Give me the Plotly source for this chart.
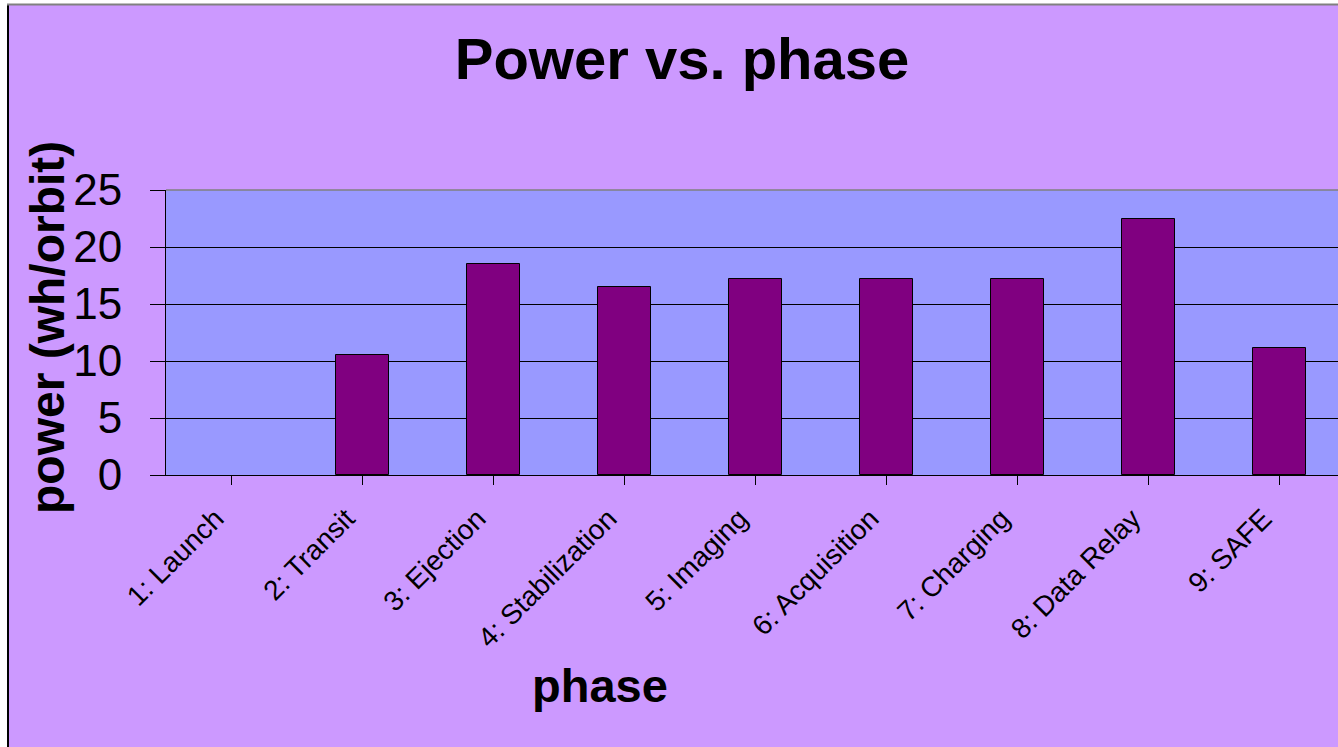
import plotly.graph_objects as go

phases = ["1: Launch", "2: Transit", "3: Ejection", "4: Stabilization", "5: Imaging",
          "6: Acquisition", "7: Charging", "8: Data Relay", "9: SAFE"]
power = [0, 10.5, 18.5, 16.5, 17.2, 17.2, 17.2, 22.5, 11.1]
y_ticks = [0, 5, 10, 15, 20, 25]

FONT = "Liberation Sans, Arial, sans-serif"
W, H = 1338, 747
L, T, B = 166, 190, 272
PW = W - L
PH = H - T - B

def px_x(x):
    return (x - L) / PW

def px_y(y):
    return (H - B - y) / PH

fig = go.Figure()
fig.add_trace(go.Bar(
    x=list(range(len(phases))), y=power, width=0.405,
    marker=dict(color="#800080",
                line=dict(color="black", width=[0 if v == 0 else 1 for v in power])),
))

fig.update_layout(
    width=W, height=H,
    margin=dict(l=L, r=0, t=T, b=B, pad=0),
    paper_bgcolor="#CC99FF",
    plot_bgcolor="#9999FF",
    showlegend=False,
    bargap=0,
    title=dict(text="Power vs. phase", x=682 / W, xanchor="center",
               y=1 - 59 / H, yanchor="middle", yref="container",
               font=dict(family=FONT, size=58, color="black", weight="bold")),
    xaxis=dict(
        range=[-0.5, 8.5 - 7 / 131],
        tickmode="array", tickvals=list(range(len(phases))), ticktext=phases,
        tickangle=-45, tickfont=dict(family=FONT, size=28, color="black"),
        ticks="outside", tickson="boundaries", ticklen=9, tickcolor="black",
        ticklabelstandoff=6, ticklabelshift=-16,
        showline=True, linecolor="black", linewidth=1,
        showgrid=False, zeroline=False, fixedrange=True,
    ),
    yaxis=dict(
        range=[0, 25], tickvals=y_ticks,
        tickfont=dict(family=FONT, size=44, color="black"),
        ticks="outside", ticklen=15, tickcolor="black",
        ticklabelstandoff=19,
        showline=True, linecolor="black", linewidth=1,
        showgrid=True, gridcolor="black", gridwidth=1,
        zeroline=False, fixedrange=True,
    ),
)

# white page strips outside the chart frame
fig.add_shape(type="rect", xref="paper", yref="paper", layer="below",
              x0=px_x(0), x1=px_x(7), y0=px_y(0), y1=px_y(760),
              fillcolor="white", line=dict(width=0))
fig.add_shape(type="rect", xref="paper", yref="paper", layer="below",
              x0=px_x(0), x1=px_x(1345), y0=px_y(0), y1=px_y(4),
              fillcolor="white", line=dict(width=0))
# plot-area top border (gray)
fig.add_shape(type="line", xref="paper", yref="paper", x0=0, x1=1.01, y0=1, y1=1,
              line=dict(color="#808080", width=1.5))
# chart frame
fig.add_shape(type="line", xref="paper", yref="paper",
              x0=px_x(8), x1=px_x(8), y0=px_y(4), y1=px_y(760),
              line=dict(color="black", width=2))
fig.add_shape(type="line", xref="paper", yref="paper",
              x0=px_x(7), x1=px_x(1345), y0=px_y(4.5), y1=px_y(4.5),
              line=dict(color="#808080", width=2))

fig.add_annotation(text="power (wh/orbit)", textangle=-90, showarrow=False,
                   xref="paper", yref="paper", x=px_x(47), y=px_y(328),
                   xanchor="center", yanchor="middle",
                   font=dict(family=FONT, size=48, color="black", weight="bold"))
fig.add_annotation(text="phase", showarrow=False,
                   xref="paper", yref="paper", x=px_x(600), y=px_y(685),
                   xanchor="center", yanchor="middle",
                   font=dict(family=FONT, size=47, color="black", weight="bold"))

fig.write_html("out.html", config={"displayModeBar": False},
               post_script="document.body.style.margin='0px';")
